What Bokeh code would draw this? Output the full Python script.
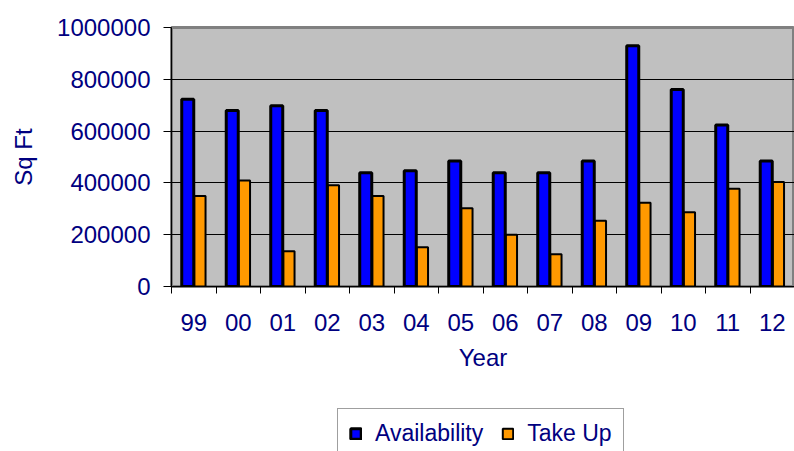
from bokeh.plotting import figure
from bokeh.layouts import column
from bokeh.models import FixedTicker, BasicTickFormatter, Legend, LegendItem, ColumnDataSource
from bokeh.transform import dodge
from bokeh.embed import file_html
from bokeh.resources import INLINE

years = ["99", "00", "01", "02", "03", "04", "05", "06", "07", "08", "09", "10", "11", "12"]
availability = [723000, 680000, 698000, 680000, 439000, 447000, 485000,
                439000, 439000, 485000, 930000, 761000, 624000, 485000]
take_up = [349000, 409000, 136000, 391000, 349000, 152000, 302000,
           200000, 125000, 254000, 323000, 287000, 377000, 403000]
y_ticks = [0, 200000, 400000, 600000, 800000, 1000000]
series_names = ["Availability", "Take Up"]

NAVY = "#000080"
FONT = "Liberation Sans"
FS = "24px"
BLUE = "#0000FF"
ORANGE = "#FF9900"

idx = list(range(len(years)))
src = ColumnDataSource(dict(x=idx, year=years, avail=availability, take=take_up))

p = figure(width=794, height=395, x_range=(-0.5, len(years) - 0.5), y_range=(0, 1000000),
           output_backend="svg", toolbar_location=None,
           min_border_left=171, min_border_right=0, min_border_top=27, min_border_bottom=109)
p.background_fill_color = "#C0C0C0"
p.border_fill_color = "white"
p.outline_line_color = "#808080"
p.outline_line_width = 3

r1 = p.vbar(x=dodge("x", -0.135), top="avail", width=0.27, source=src,
            fill_color=BLUE, line_color="black", line_width=3)
r2 = p.vbar(x=dodge("x", 0.14), top="take", width=0.25, source=src,
            fill_color=ORANGE, line_color="black", line_width=2)

# grids
p.xgrid.visible = False
p.ygrid.ticker = FixedTicker(ticks=y_ticks)
p.ygrid.grid_line_color = "black"
p.ygrid.grid_line_width = 1

# x axis
xa = p.xaxis[0]
xa.ticker = FixedTicker(ticks=idx, minor_ticks=[i - 0.5 for i in range(len(years) + 1)])
xa.major_label_overrides = {i: y for i, y in enumerate(years)}
xa.major_tick_out = 0
xa.major_tick_in = 0
xa.minor_tick_out = 7
xa.minor_tick_in = 0
xa.minor_tick_line_color = "black"
xa.axis_line_color = "black"
xa.major_label_standoff = 20
xa.major_label_text_font = FONT
xa.major_label_text_font_size = FS
xa.major_label_text_color = NAVY
xa.axis_label = "Year"
xa.axis_label_text_font = FONT
xa.axis_label_text_font_size = FS
xa.axis_label_text_font_style = "normal"
xa.axis_label_text_color = NAVY
xa.axis_label_standoff = 10

# y axis
ya = p.yaxis[0]
ya.ticker = FixedTicker(ticks=y_ticks)
ya.formatter = BasicTickFormatter(use_scientific=False)
ya.major_tick_out = 8
ya.major_tick_in = 0
ya.minor_tick_out = 0
ya.minor_tick_in = 0
ya.major_tick_line_color = "black"
ya.axis_line_color = "black"
ya.major_label_standoff = 13
ya.major_label_text_font = FONT
ya.major_label_text_font_size = FS
ya.major_label_text_color = NAVY
ya.axis_label = "Sq Ft"
ya.axis_label_text_font = FONT
ya.axis_label_text_font_size = FS
ya.axis_label_text_font_style = "normal"
ya.axis_label_text_color = NAVY
ya.axis_label_standoff = 17

# legend strip below the chart: same series, squeezed by the ranges into the
# area that the legend box covers
p2 = figure(width=794, height=56, x_range=(-11.5, 24.8), y_range=(-240000, 2000000),
            output_backend="svg", toolbar_location=None,
            x_axis_type=None, y_axis_type=None,
            min_border_left=0, min_border_right=0, min_border_top=0, min_border_bottom=0)
p2.outline_line_color = None
p2.xgrid.visible = False
p2.ygrid.visible = False
p2.background_fill_color = "white"
p2.border_fill_color = "white"
g1 = p2.vbar(x="x", top="avail", width=0.27, source=src,
             fill_color=BLUE, line_color="black", line_width=3)
g2 = p2.vbar(x="x", top="take", width=0.25, source=src,
             fill_color=ORANGE, line_color="black", line_width=2)

legend = Legend(items=[LegendItem(label=series_names[0], renderers=[g1]),
                       LegendItem(label=series_names[1], renderers=[g2])],
                orientation="horizontal", location=(166, -8))
legend.border_line_color = "#404040"
legend.border_line_width = 1
legend.background_fill_color = "white"
legend.background_fill_alpha = 1
legend.label_text_font = FONT
legend.label_text_font_size = "23px"
legend.label_text_color = NAVY
legend.glyph_width = 13
legend.glyph_height = 13
legend.label_standoff = 13
legend.spacing = 18
legend.padding = 11
legend.margin = 0
p2.add_layout(legend, "center")

layout = column(p, p2, spacing=0)
open("out.html", "w").write(file_html(layout, INLINE))
